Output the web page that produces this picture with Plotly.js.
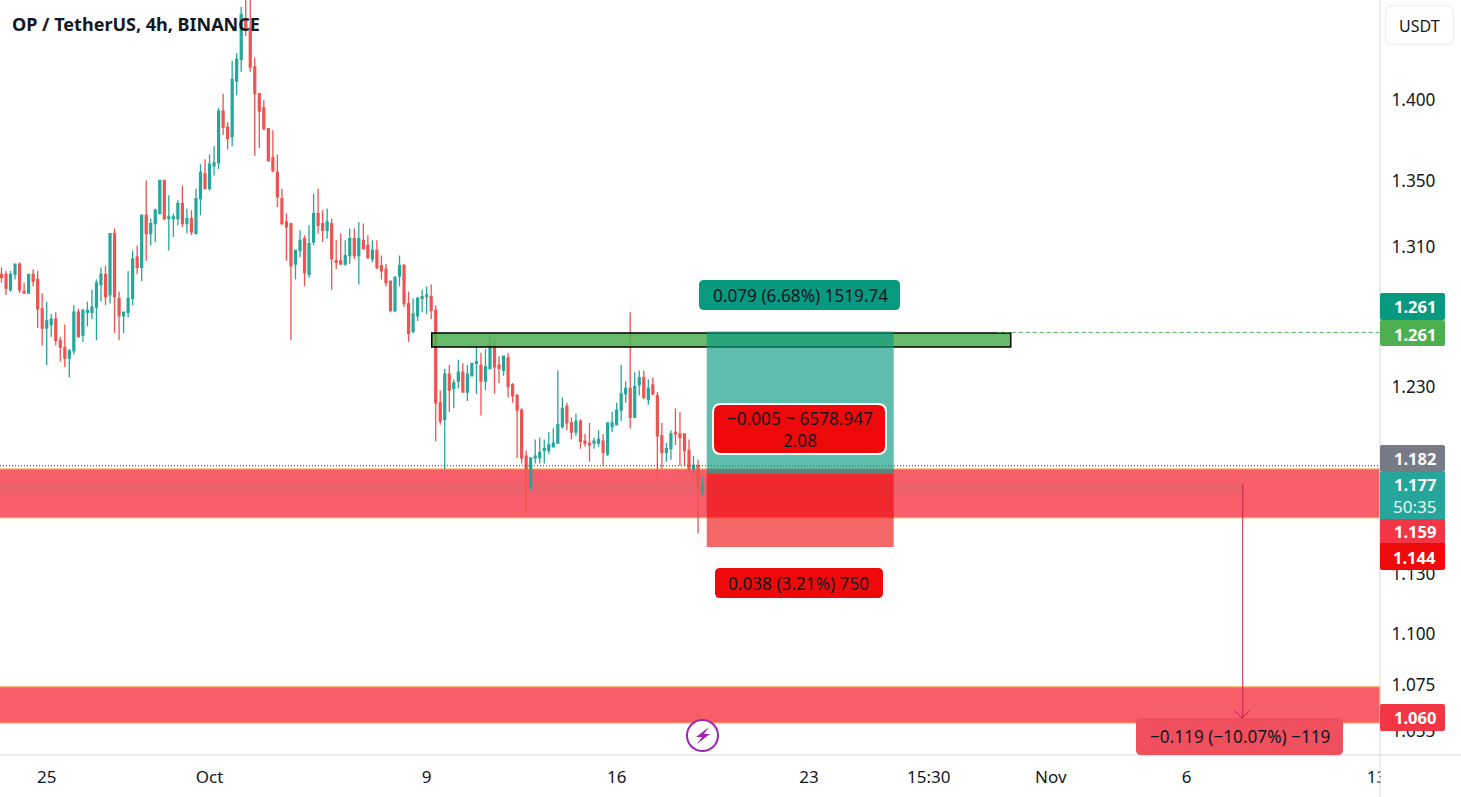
<!DOCTYPE html>
<html><head><meta charset="utf-8">
<script src="https://cdn.plot.ly/plotly-3.0.1.min.js"></script>
<style>html,body{margin:0;padding:0;background:#fff}#chart{width:1461px;height:797px}</style>
</head><body><div id="chart"></div>
<script>
const firstCandle = '2023-09-23T08:00:00Z';
const opens = [1.294,1.294,1.285,1.294,1.300,1.284,1.283,1.294,1.291,1.274,
1.263,1.265,1.268,1.256,1.252,1.246,1.250,1.272,1.259,1.272,
1.272,1.275,1.288,1.294,1.282,1.318,1.280,1.270,1.272,1.280,
1.304,1.298,1.329,1.318,1.324,1.330,1.350,1.327,1.327,1.327,
1.336,1.324,1.327,1.318,1.339,1.354,1.345,1.359,1.361,1.393,
1.383,1.377,1.412,1.426,1.451,1.446,1.421,1.404,1.395,1.382,
1.364,1.355,1.339,1.325,1.324,1.300,1.308,1.315,1.294,1.313,
1.330,1.324,1.320,1.324,1.302,1.302,1.300,1.305,1.315,1.305,
1.314,1.311,1.303,1.308,1.299,1.297,1.290,1.273,1.293,1.299,
1.277,1.261,1.270,1.280,1.281,1.281,1.273,1.221,1.212,1.237,
1.229,1.233,1.238,1.227,1.236,1.243,1.242,1.233,1.240,1.253,
1.242,1.239,1.246,1.231,1.225,1.217,1.192,1.175,1.191,1.191,
1.195,1.195,1.197,1.199,1.208,1.219,1.210,1.205,1.211,1.200,
1.199,1.199,1.199,1.200,1.193,1.208,1.209,1.217,1.226,1.229,
1.213,1.231,1.235,1.223,1.231,1.225,1.203,1.194,1.196,1.205,
1.204,1.204,1.195,1.185,1.187,1.173];
const closes = [1.292,1.286,1.294,1.300,1.285,1.283,1.294,1.290,1.274,1.263,
1.267,1.268,1.256,1.252,1.246,1.250,1.272,1.258,1.273,1.273,
1.275,1.289,1.294,1.281,1.318,1.281,1.270,1.272,1.280,1.303,
1.298,1.329,1.318,1.324,1.332,1.350,1.327,1.328,1.328,1.336,
1.324,1.327,1.319,1.339,1.355,1.345,1.360,1.361,1.393,1.383,
1.376,1.413,1.426,1.455,1.446,1.421,1.404,1.393,1.382,1.362,
1.356,1.340,1.324,1.322,1.299,1.308,1.314,1.295,1.312,1.330,
1.323,1.320,1.325,1.303,1.301,1.300,1.305,1.315,1.305,1.315,
1.309,1.304,1.308,1.298,1.296,1.289,1.273,1.292,1.299,1.277,
1.260,1.271,1.280,1.281,1.282,1.273,1.221,1.211,1.237,1.228,
1.232,1.238,1.227,1.237,1.243,1.244,1.233,1.241,1.253,1.241,
1.240,1.247,1.230,1.225,1.217,1.191,1.185,1.191,1.192,1.194,
1.196,1.198,1.199,1.209,1.218,1.210,1.205,1.211,1.200,1.199,
1.198,1.200,1.201,1.194,1.210,1.210,1.217,1.226,1.229,1.213,
1.230,1.235,1.224,1.229,1.226,1.203,1.194,1.196,1.204,1.204,
1.202,1.195,1.185,1.187,1.176,1.177];
const highs = [1.298,1.296,1.296,1.300,1.301,1.289,1.294,1.297,1.296,1.283,
1.278,1.271,1.272,1.258,1.265,1.251,1.276,1.274,1.274,1.278,
1.285,1.291,1.298,1.299,1.318,1.321,1.284,1.272,1.296,1.308,
1.311,1.329,1.350,1.327,1.333,1.350,1.350,1.341,1.330,1.338,
1.347,1.333,1.332,1.345,1.360,1.363,1.366,1.371,1.395,1.404,
1.386,1.425,1.430,1.460,1.470,1.468,1.427,1.404,1.400,1.382,
1.381,1.366,1.345,1.330,1.324,1.308,1.320,1.317,1.323,1.342,
1.345,1.332,1.333,1.327,1.314,1.318,1.314,1.321,1.321,1.325,
1.324,1.317,1.314,1.314,1.305,1.300,1.290,1.293,1.305,1.300,
1.284,1.280,1.281,1.285,1.287,1.288,1.276,1.228,1.240,1.242,
1.234,1.245,1.243,1.242,1.243,1.253,1.249,1.251,1.259,1.256,
1.247,1.247,1.249,1.232,1.226,1.218,1.195,1.191,1.201,1.202,
1.201,1.205,1.207,1.239,1.224,1.221,1.213,1.215,1.212,1.204,
1.210,1.202,1.206,1.204,1.210,1.216,1.221,1.242,1.233,1.272,
1.238,1.239,1.239,1.234,1.235,1.227,1.210,1.199,1.206,1.218,
1.216,1.204,1.201,1.192,1.190,1.181];
const lows = [1.289,1.282,1.284,1.291,1.283,1.283,1.283,1.287,1.263,1.253,
1.242,1.258,1.253,1.244,1.241,1.235,1.248,1.258,1.255,1.264,
1.268,1.256,1.278,1.276,1.277,1.260,1.256,1.260,1.269,1.276,
1.294,1.290,1.302,1.311,1.313,1.330,1.326,1.308,1.316,1.323,
1.322,1.318,1.317,1.318,1.329,1.345,1.344,1.353,1.357,1.378,
1.369,1.371,1.403,1.418,1.441,1.418,1.365,1.370,1.381,1.362,
1.355,1.334,1.323,1.302,1.256,1.291,1.304,1.287,1.292,1.311,
1.318,1.313,1.315,1.285,1.297,1.300,1.299,1.300,1.303,1.288,
1.309,1.303,1.301,1.297,1.291,1.287,1.272,1.272,1.287,1.275,
1.255,1.260,1.267,1.272,1.271,1.268,1.200,1.209,1.185,1.216,
1.218,1.229,1.227,1.222,1.236,1.226,1.214,1.228,1.240,1.226,
1.232,1.236,1.224,1.221,1.191,1.188,1.162,1.174,1.188,1.188,
1.188,1.193,1.197,1.199,1.207,1.206,1.201,1.203,1.196,1.197,
1.189,1.196,1.197,1.187,1.192,1.205,1.209,1.211,1.221,1.207,
1.213,1.225,1.223,1.220,1.225,1.180,1.185,1.189,1.190,1.198,
1.187,1.187,1.184,1.182,1.151,1.171];

const priceTicks = [1.053,1.075,1.100,1.130,1.230,1.310,1.350,1.400];
const priceTickText = ['1.053','1.075','1.100','1.130','1.230','1.310','1.350','1.400'];
const dateTicks = ['2023-09-25','2023-10-01','2023-10-09','2023-10-16','2023-10-23 02:00','2023-10-27 12:00','2023-11-01','2023-11-06','2023-11-13'];
const dateTickText = ['25','Oct','9','16','23','15:30','Nov','6','13'];

const FONT = '"Noto Sans", sans-serif';
const W = 1380, H = 755;
const px = x => x / W, py = y => 1 - y / H;
const round = (x0,y0,x1,y1,r) => {
  const P=(x,y)=>px(x)+' '+py(y);
  return 'M'+P(x0+r,y0)+' L'+P(x1-r,y0)+' Q'+P(x1,y0)+' '+P(x1,y0+r)+' L'+P(x1,y1-r)+' Q'+P(x1,y1)+' '+P(x1-r,y1)+
    ' L'+P(x0+r,y1)+' Q'+P(x0,y1)+' '+P(x0,y1-r)+' L'+P(x0,y0+r)+' Q'+P(x0,y0)+' '+P(x0+r,y0)+' Z';
};
const poly = pts => 'M' + pts.map(p=>px(p[0])+' '+py(p[1])).join(' L') + ' Z';
const box = (x0,y0,x1,y1,r,fill,line,lw) => ({type:'path',xref:'paper',yref:'paper',path:round(x0,y0,x1,y1,r),
  fillcolor:fill,line:{color:line||fill,width:lw===undefined?0:lw},layer:'above'});
const note = (text,x,y,size,color,bold) => ({xref:'paper',yref:'paper',x:px(x),y:py(y),xanchor:'center',yanchor:'middle',
  text:bold?'<b>'+text+'</b>':text,showarrow:false,font:{family:FONT,size:size,color:color}});

const dPx = (x0,x1,p0,p1,fill,line,lw,dash) => ({type:'rect',xref:'x',yref:'y',x0:x0,x1:x1,y0:p0,y1:p1,fillcolor:fill,
  line:{color:line||fill,width:lw||0,dash:dash||'solid'},layer:'above'});
const zone = (p0,p1) => ({type:'rect',xref:'paper',yref:'y',x0:-0.01,x1:1,y0:p0,y1:p1,fillcolor:'rgba(247,82,95,0.93)',
  line:{color:'#f9b24c',width:1},layer:'below'});

const shapes = [
  zone(1.1592,1.1851), zone(1.0566,1.0740),
  {type:'rect',xref:'x',yref:'y',x0:'2023-09-23 06:42',x1:'2023-11-08 01:40',y0:1.1715,y1:1.1775,fillcolor:'rgba(100,150,130,0.08)',line:{width:0},layer:'below'},
  {type:'line',xref:'paper',yref:'y',x0:0,x1:1,y0:1.1868,y1:1.1868,line:{color:'#333',width:1,dash:'1px,2px'},layer:'above'},
  dPx('2023-10-09 04:30','2023-10-30 12:30',1.2522,1.2602,'rgba(76,175,80,0.85)','#000',1.5),
  {type:'line',xref:'x',yref:'y',x0:'2023-10-30 01:00',x1:'2023-11-13 03:03',y0:1.2605,y1:1.2605,line:{color:'#4caf50',width:1,dash:'4px,3px'},layer:'above'},
  dPx('2023-10-19 07:40','2023-10-26 05:00',1.1825,1.261,'rgba(8,153,129,0.65)'),
  dPx('2023-10-19 07:40','2023-10-26 05:00',1.144,1.1825,'rgba(237,10,10,0.62)'),
  {type:'line',xref:'x',yref:'y',x0:'2023-11-08 01:40',x1:'2023-11-08 01:40',y0:1.177,y1:1.059,line:{color:'#c8214a',width:1},layer:'above'},
  {type:'path',xref:'paper',yref:'paper',path:'M'+px(1234)+' '+py(710)+' L'+px(1242)+' '+py(718)+' L'+px(1250)+' '+py(710),line:{color:'#c8214a',width:1},layer:'above'},
  /* axis chrome */
  {type:'rect',xref:'paper',yref:'paper',x0:px(1381),x1:px(1461),y0:py(797),y1:py(756),fillcolor:'#fff',line:{width:0},layer:'above'},
  {type:'line',xref:'paper',yref:'paper',x0:px(0),x1:px(1461),y0:py(755),y1:py(755),line:{color:'#d6d8de',width:1},layer:'above'},
  {type:'line',xref:'paper',yref:'paper',x0:px(1380),x1:px(1380),y0:py(0),y1:py(797),line:{color:'#d6d8de',width:1},layer:'above'},
  box(1385.5,5.5,1453.5,44.5,7,'#fff','#eef0f3',1.5),
  /* price labels */
  box(1380,293,1445,320,2,'#089981'),
  box(1380,320,1445,346,2,'#4caf50'),
  box(1380,445,1445,472,2,'#787b86'),
  box(1380,472,1445,519,0,'#26a69a'),
  box(1380,519,1445,544,0,'#f23645'),
  box(1380,543,1445,570,2,'#ee0a0a'),
  box(1380,704,1445,731,2,'#f23645'),
  /* drawing labels */
  box(699,280,900,310,5,'#089981'),
  box(713,404,886,454,8,'#ee0a0a','#fff',2),
  box(715,568,883,598,5,'#ee0a0a'),
  box(1136,718,1343,755,5,'#f0505e'),
  /* badge */
  {type:'circle',xref:'paper',yref:'paper',x0:px(687),x1:px(718),y0:py(751),y1:py(720),fillcolor:'#fff',line:{color:'#9c27b0',width:2},layer:'above'},
  {type:'path',xref:'paper',yref:'paper',path:poly([[709,727],[696,737],[702,737],[697,744],[710,734],[704,734]]),fillcolor:'#9c27b0',line:{width:0},layer:'above'}
];

const INK = '#131722';
const LABEL = 17.2;
const annotations = [
  note('OP / TetherUS, 4h, BINANCE',135.5,24,18,INK,true),
  note('USDT',1420,26,16,INK),
  note('1.261',1415,307,16.5,'#fff',true),
  note('1.261',1415,334,16.5,'#fff',true),
  note('1.182',1415,459,16.5,'#fff',true),
  note('1.177',1415,485,16.5,'#fff',true),
  note('50:35',1415,506,17,'#e8f6f4'),
  note('1.159',1415,531,16.5,'#fff',true),
  note('1.144',1415,557,16.5,'#fff',true),
  note('1.060',1415,717,16.5,'#fff',true),
  note('0.079 (6.68%) 1519.74',800,295,LABEL,INK),
  note('−0.005 ~ 6578.947<br>2.08',800,429,LABEL,INK),
  note('0.038 (3.21%) 750',799,583,LABEL,INK),
  note('−0.119 (−10.07%) −119',1240,736,LABEL,INK)
];

const times = opens.map((_,i)=>new Date(Date.parse(firstCandle)+i*4*3600e3).toISOString().slice(0,16).replace('T',' '));

Plotly.newPlot('chart',[{
  type:'candlestick',x:times,open:opens,high:highs,low:lows,close:closes,
  increasing:{line:{color:'#26a69a',width:1.3},fillcolor:'#26a69a'},
  decreasing:{line:{color:'#ef5350',width:1.3},fillcolor:'#ef5350'},
  hoverinfo:'skip',showlegend:false
}],{
  width:1461,height:797,paper_bgcolor:'#fff',plot_bgcolor:'#fff',
  margin:{l:0,r:81,t:0,b:42,pad:0},showlegend:false,boxgap:0.4,
  xaxis:{type:'date',range:['2023-09-23 06:42','2023-11-13 03:03'],rangeslider:{visible:false},showgrid:false,zeroline:false,
    tickmode:'array',tickvals:dateTicks,ticktext:dateTickText,tickangle:0,ticklen:7,tickcolor:'rgba(0,0,0,0)',
    tickfont:{family:FONT,size:17,color:INK},showline:false,automargin:false},
  yaxis:{type:'log',side:'right',range:[0.017641,0.16574],showgrid:false,zeroline:false,
    tickmode:'array',tickvals:priceTicks,ticktext:priceTickText,ticklen:7,tickcolor:'rgba(0,0,0,0)',
    tickfont:{family:FONT,size:17.2,color:INK},showline:false,automargin:false},
  shapes:shapes,annotations:annotations,hovermode:false
},{displayModeBar:false,staticPlot:true});
</script></body></html>
